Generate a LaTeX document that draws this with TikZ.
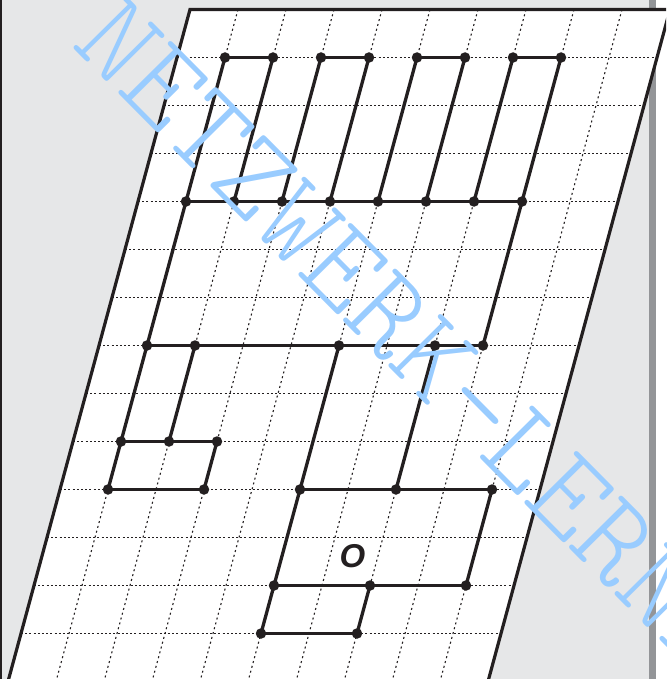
\documentclass[tikz,border=0pt]{standalone}
\usepackage{fontspec}
\newfontfamily\labelfont{Liberation Sans}
\definecolor{ink}{HTML}{231F20}
\definecolor{bgcol}{HTML}{E6E7E8}
\definecolor{barcol}{HTML}{939598}
\definecolor{wm}{HTML}{99CCFF}
\begin{document}
\begin{tikzpicture}[x={(48pt,0pt)},y={(-13pt,-48pt)},
  thickline/.style={line width=3.3pt, draw=ink, line cap=round, line join=round},
  dot/.style={circle, fill=ink, inner sep=0pt, minimum size=10.5pt},
  hgrid/.style={draw=ink, line width=1.1pt, dash pattern=on 2pt off 2.2pt},
  vgrid/.style={draw=ink, line width=1.1pt, dash pattern=on 2pt off 3pt},
  frame/.style={draw=ink, line width=3.2pt, fill=white, line join=miter}]
\useasboundingbox (-190pt,9.5pt) rectangle (476pt,-669.5pt);
\clip (-190pt,9.5pt) rectangle (476pt,-669.5pt);
% background
\fill[white] (-190pt,9.5pt) rectangle (476pt,-669.5pt);
\fill[bgcol] (-188pt,9.5pt) rectangle (459pt,-669.5pt);
\fill[ink] (-190pt,9.5pt) rectangle (-188pt,-669.5pt);
\fill[barcol] (459pt,9.5pt) rectangle (466pt,-669.5pt);
% sheet
\draw[frame] (0,0) -- (10,0) -- (10,14.3) -- (0,14.3) -- cycle;
\foreach \v in {1,...,13} \draw[hgrid] (0,\v) -- (10,\v);
\foreach \u in {1,...,9} \draw[vgrid] (\u,0) -- (\u,14.3);
% points
\foreach \u/\v in {1/1,2/1,3/1,4/1,5/1,6/1,7/1,8/1,
                   1/4,2/4,3/4,4/4,5/4,6/4,7/4,8/4,
                   1/7,2/7,5/7,7/7,8/7,
                   1/9,2/9,3/9,
                   1/10,3/10,5/10,7/10,9/10,
                   5/12,7/12,9/12,
                   5/13,7/13}
  \node[dot] (p\u-\v) at (\u,\v) {};
% edges
\foreach \a/\b in {1/2,3/4,5/6,7/8}
  \draw[thickline] (p\a-1.center) -- (p\b-1.center);
\foreach \u in {1,...,8}
  \draw[thickline] (p\u-1.center) -- (p\u-4.center);
\draw[thickline] (p1-4.center) -- (p2-4.center) -- (p3-4.center) -- (p4-4.center)
  -- (p5-4.center) -- (p6-4.center) -- (p7-4.center) -- (p8-4.center);
\draw[thickline] (p1-4.center) -- (p1-7.center);
\draw[thickline] (p8-4.center) -- (p8-7.center);
\draw[thickline] (p1-7.center) -- (p2-7.center) -- (p5-7.center) -- (p7-7.center) -- (p8-7.center);
\draw[thickline] (p1-7.center) -- (p1-9.center);
\draw[thickline] (p2-7.center) -- (p2-9.center);
\draw[thickline] (p1-9.center) -- (p2-9.center) -- (p3-9.center);
\draw[thickline] (p1-9.center) -- (p1-10.center);
\draw[thickline] (p3-9.center) -- (p3-10.center);
\draw[thickline] (p1-10.center) -- (p3-10.center);
\draw[thickline] (p5-7.center) -- (p5-10.center);
\draw[thickline] (p7-7.center) -- (p7-10.center);
\draw[thickline] (p5-10.center) -- (p7-10.center) -- (p9-10.center);
\draw[thickline] (p5-10.center) -- (p5-12.center);
\draw[thickline] (p9-10.center) -- (p9-12.center);
\draw[thickline] (p5-12.center) -- (p7-12.center) -- (p9-12.center);
\draw[thickline] (p5-12.center) -- (p5-13.center);
\draw[thickline] (p7-12.center) -- (p7-13.center);
\draw[thickline] (p5-13.center) -- (p7-13.center);
% label
\node[font=\labelfont\bfseries\itshape\fontsize{33}{33}\selectfont, text=ink, inner sep=0pt]
  (lab) at (162.5pt,-546.5pt) {O};
% watermark
\node[font=\ttfamily\fontseries{l}\fontsize{122}{122}\selectfont, text=wm,
  rotate=-45.3, anchor=west, inner sep=0pt] (wmk) at (-93.5pt,-9.7pt) {NETZWERK-LERNEN};
\end{tikzpicture}
\end{document}
